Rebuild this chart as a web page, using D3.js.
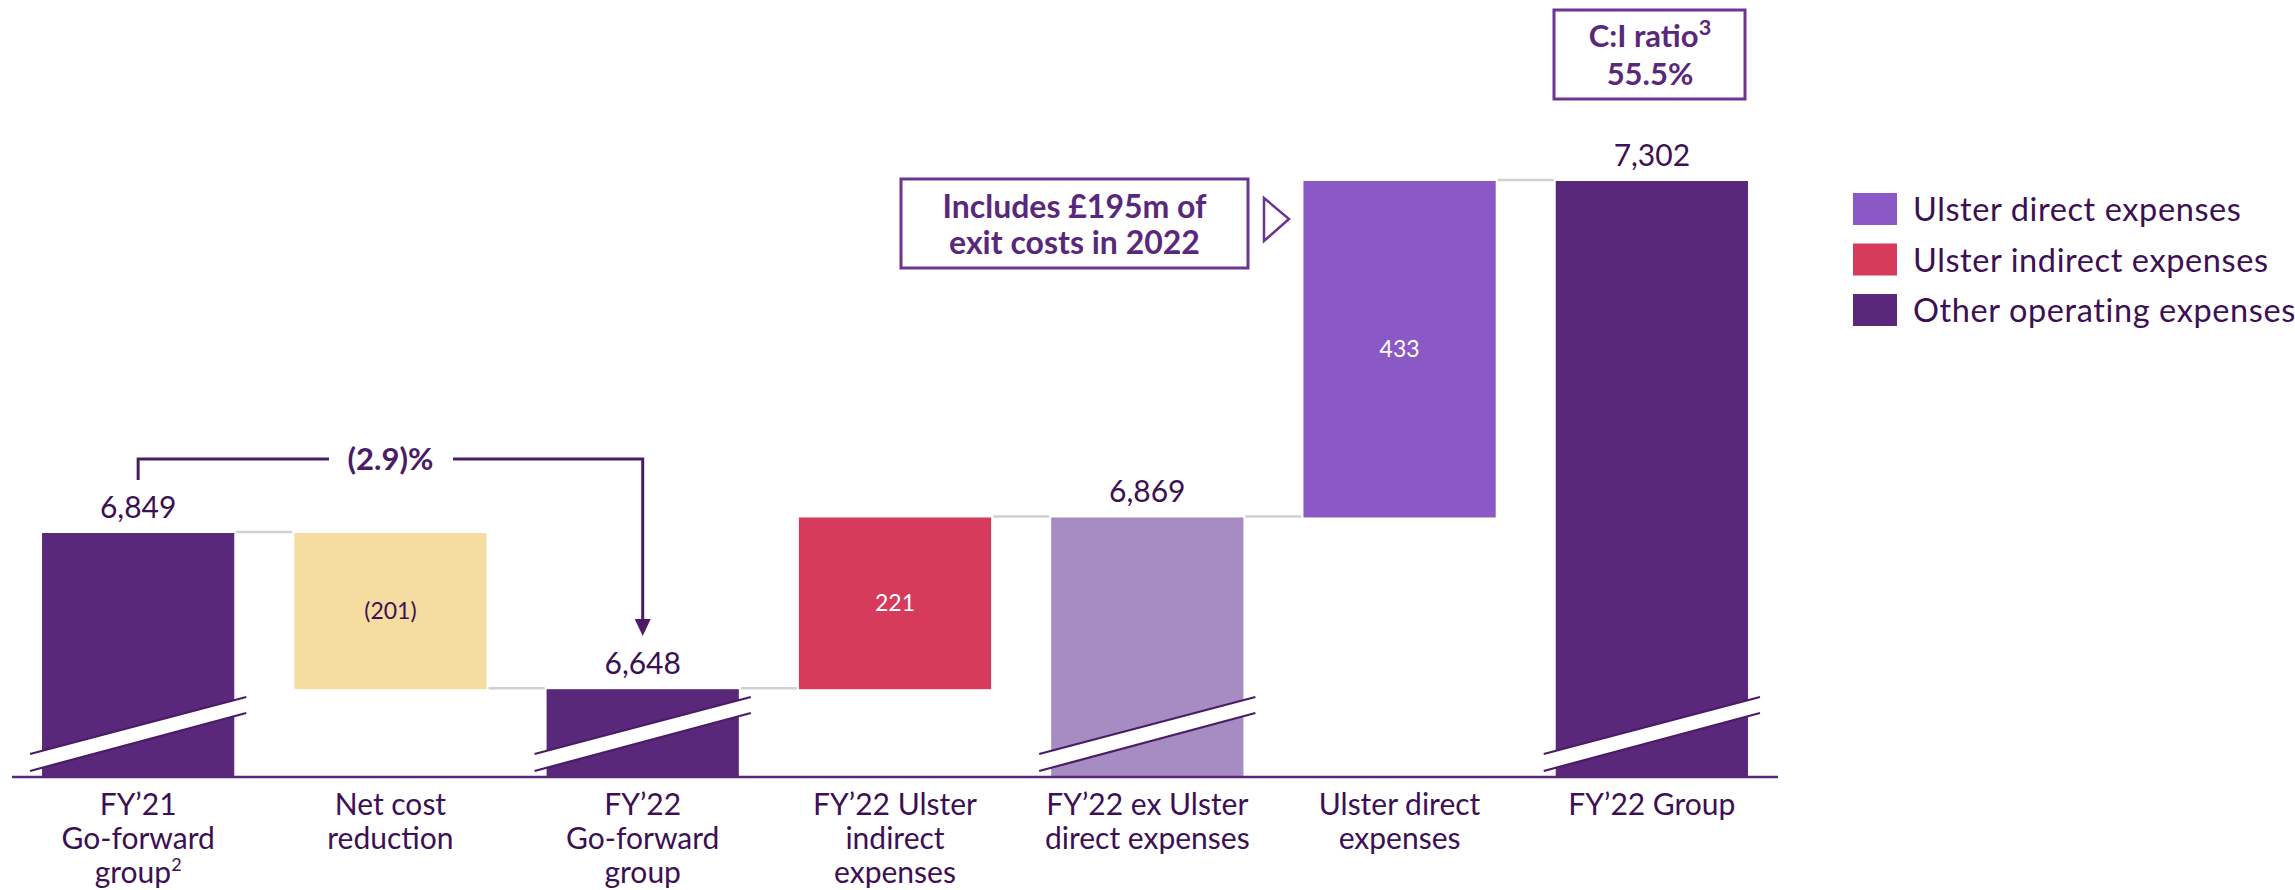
<!DOCTYPE html>
<html>
<head>
<meta charset="utf-8">
<script src="https://cdn.jsdelivr.net/npm/d3@7"></script>
<style>
  html, body { margin: 0; padding: 0; background: #ffffff; }
  svg { display: block; font-family: Lato, "Open Sans", sans-serif; }
</style>
</head>
<body>
<svg id="chart" width="2295" height="890"></svg>
<script>
// ---- data ----
const categories = [
  ["FY’21", "Go-forward", "group|2"],
  ["Net cost", "reduction"],
  ["FY’22", "Go-forward", "group"],
  ["FY’22 Ulster", "indirect", "expenses"],
  ["FY’22 ex Ulster", "direct expenses"],
  ["Ulster direct", "expenses"],
  ["FY’22 Group"]
];
const values = [6849, -201, 6648, 221, 6869, 433, 7302];
const barKinds = ["total", "delta", "total", "delta", "total", "delta", "total"];
const valueLabels = ["6,849", "(201)", "6,648", "221", "6,869", "433", "7,302"];
const barColors = ["#5a287a", "#f5dca0", "#5a287a", "#d63b5c", "#a68cc3", "#8b59c5", "#5a287a"];
const labelColors = ["#3c1053", "#3c1053", "#3c1053", "#ffffff", "#3c1053", "#ffffff", "#3c1053"];
const legendLabels = ["Ulster direct expenses", "Ulster indirect expenses", "Other operating expenses"];
const legendColors = ["#8b59c5", "#d63b5c", "#5a287a"];
const axisFloor = 6535;
const changeLabel = "(2.9)%";
const noteLines = ["Includes £195m of", "exit costs in 2022"];
const ratioLines = ["C:I ratio|3", "55.5%"];

// ---- setup ----
const svg = d3.select("#chart");
const textColor = "#3c1053";
const darkLine = "#4b1c66";
const boxStroke = "#6b3590";

const x = d3.scaleBand()
  .domain(d3.range(categories.length))
  .range([12, 1778])
  .paddingInner(0.238)
  .paddingOuter(0.119);

const y = d3.scaleLinear().domain([axisFloor, 7302]).range([777, 181]);

// compute bar extents
let running = 0;
const bars = values.map((v, i) => {
  let lo, hi, level;
  if (barKinds[i] === "total") {
    lo = axisFloor; hi = v; running = v; level = v;
  } else {
    const start = running;
    running = start + v;
    lo = Math.min(start, running); hi = Math.max(start, running);
    level = running;
  }
  return { i, lo, hi, level, v };
});

// connectors
const conn = svg.append("g");
for (let i = 0; i < bars.length - 1; i++) {
  const lvl = bars[i].level;
  conn.append("line")
    .attr("x1", x(i) + x.bandwidth() + 2)
    .attr("x2", x(i + 1) - 2)
    .attr("y1", y(lvl) - 1).attr("y2", y(lvl) - 1)
    .attr("stroke", "#d0d0d0").attr("stroke-width", 2.5);
}

// bars
svg.append("g").selectAll("rect").data(bars).join("rect")
  .attr("x", d => x(d.i))
  .attr("width", x.bandwidth())
  .attr("y", d => y(d.hi))
  .attr("height", d => y(d.lo) - y(d.hi))
  .attr("fill", d => barColors[d.i]);

// break marks on total bars
const brk = svg.append("g");
bars.filter(d => barKinds[d.i] === "total").forEach(d => {
  const xl = x(d.i) - 12, xr = x(d.i) + x.bandwidth() + 12;
  const base = y(axisFloor);
  const u1 = base - 23, u2 = base - 80, l1 = base - 6, l2 = base - 64;
  brk.append("path")
    .attr("d", `M${xl},${u1} L${xr},${u2} L${xr},${l2} L${xl},${l1} Z`)
    .attr("fill", "#ffffff");
  brk.append("line").attr("x1", xl).attr("y1", u1).attr("x2", xr).attr("y2", u2)
    .attr("stroke", darkLine).attr("stroke-width", 2.2);
  brk.append("line").attr("x1", xl).attr("y1", l1).attr("x2", xr).attr("y2", l2)
    .attr("stroke", darkLine).attr("stroke-width", 2.2);
});

// axis baseline
svg.append("line")
  .attr("x1", x.range()[0]).attr("x2", x.range()[1])
  .attr("y1", y(axisFloor)).attr("y2", y(axisFloor))
  .attr("stroke", "#5a287a").attr("stroke-width", 2.5);

// value labels
bars.forEach(d => {
  const cx = x(d.i) + x.bandwidth() / 2;
  if (barKinds[d.i] === "total") {
    svg.append("text").attr("x", cx).attr("y", y(d.hi) - 15)
      .attr("text-anchor", "middle").attr("font-size", 30)
      .attr("fill", labelColors[d.i]).text(valueLabels[d.i]);
  } else {
    svg.append("text").attr("x", cx).attr("y", (y(d.hi) + y(d.lo)) / 2)
      .attr("dy", "0.35em")
      .attr("text-anchor", "middle").attr("font-size", 23)
      .attr("fill", labelColors[d.i]).text(valueLabels[d.i]);
  }
});

// helper for text with superscript marker "|"
function addSuperText(sel, str, fontSize, ratio) {
  const parts = str.split("|");
  sel.append("tspan").text(parts[0]);
  if (parts[1]) {
    sel.append("tspan").attr("font-size", fontSize * (ratio || 0.6))
      .attr("dy", -fontSize * 0.4).text(parts[1]);
  }
}

// category labels
categories.forEach((lines, i) => {
  const cx = x(i) + x.bandwidth() / 2;
  lines.forEach((ln, k) => {
    const t = svg.append("text").attr("x", cx).attr("y", 815 + k * 34)
      .attr("text-anchor", "middle").attr("font-size", 30).attr("fill", textColor);
    addSuperText(t, ln, 30);
  });
});

// (2.9)% bracket arrow
const c0 = x(0) + x.bandwidth() / 2, c2 = x(2) + x.bandwidth() / 2;
const by = 459;
const ann = svg.append("g").attr("stroke", darkLine).attr("stroke-width", 3).attr("fill", "none");
ann.append("path").attr("d", `M${c0},480 L${c0},${by} L329,${by}`);
ann.append("path").attr("d", `M453,${by} L${c2},${by} L${c2},622`);
svg.append("path").attr("d", `M${c2 - 8},619 L${c2 + 8},619 L${c2},636 Z`).attr("fill", darkLine);
svg.append("text").attr("x", (c0 + c2) / 2).attr("y", by).attr("dy", "0.35em")
  .attr("text-anchor", "middle").attr("font-size", 31).attr("font-weight", "bold")
  .attr("fill", darkLine).text(changeLabel);

// note box
svg.append("rect").attr("x", 901).attr("y", 179).attr("width", 347).attr("height", 89)
  .attr("fill", "none").attr("stroke", boxStroke).attr("stroke-width", 3);
noteLines.forEach((ln, k) => {
  svg.append("text").attr("x", 1074.5).attr("y", 218 + k * 36)
    .attr("text-anchor", "middle").attr("font-size", 32).attr("font-weight", "bold")
    .attr("fill", "#5a287a").text(ln);
});
svg.append("path").attr("d", "M1264,198 L1289,219 L1264,241 Z")
  .attr("fill", "none").attr("stroke", boxStroke).attr("stroke-width", 2.5);

// C:I ratio box
svg.append("rect").attr("x", 1554).attr("y", 10).attr("width", 191).attr("height", 89)
  .attr("fill", "none").attr("stroke", boxStroke).attr("stroke-width", 3);
ratioLines.forEach((ln, k) => {
  const t = svg.append("text").attr("x", 1650).attr("y", 47 + k * 38)
    .attr("text-anchor", "middle").attr("font-size", 31).attr("font-weight", "bold")
    .attr("fill", "#5a287a");
  addSuperText(t, ln, 31, 0.7);
});

// legend
const lg = svg.append("g");
legendLabels.forEach((lab, k) => {
  lg.append("rect").attr("x", 1853).attr("y", 193 + k * 50.5)
    .attr("width", 44).attr("height", 32).attr("fill", legendColors[k]);
  lg.append("text").attr("x", 1913).attr("y", 221 + k * 50.5)
    .attr("font-size", 32.5).attr("letter-spacing", 0.6)
    .attr("fill", textColor).text(lab);
});
</script>
</body>
</html>
